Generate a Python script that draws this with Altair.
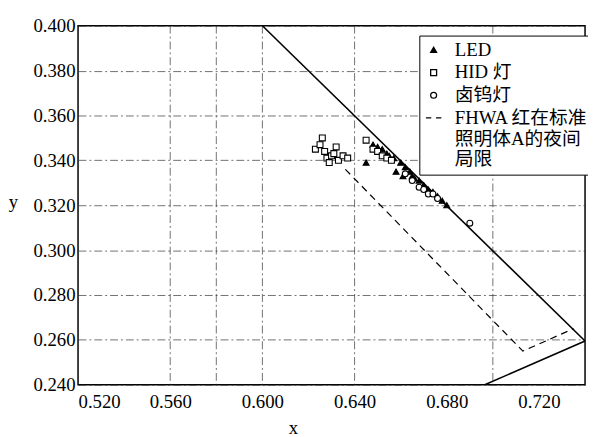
import altair as alt
import pandas as pd

# ---- data ----
led_x = [0.645, 0.648, 0.650, 0.652, 0.654, 0.655, 0.657, 0.658, 0.660, 0.661, 0.662, 0.664, 0.665, 0.666, 0.668, 0.670, 0.672, 0.674, 0.676, 0.678, 0.680]
led_y = [0.339, 0.347, 0.346, 0.345, 0.343, 0.342, 0.341, 0.335, 0.339, 0.333, 0.337, 0.335, 0.333, 0.332, 0.331, 0.329, 0.327, 0.326, 0.324, 0.322, 0.320]

hid_x = [0.623, 0.625, 0.626, 0.627, 0.628, 0.629, 0.630, 0.631, 0.632, 0.633, 0.635, 0.637, 0.645, 0.648, 0.650, 0.652, 0.654, 0.656]
hid_y = [0.345, 0.347, 0.350, 0.344, 0.341, 0.339, 0.342, 0.343, 0.346, 0.340, 0.342, 0.341, 0.349, 0.345, 0.344, 0.342, 0.341, 0.340]

hal_x = [0.662, 0.665, 0.668, 0.670, 0.672, 0.674, 0.676, 0.690]
hal_y = [0.334, 0.331, 0.328, 0.327, 0.325, 0.325, 0.323, 0.312]

categories = ["LED", "HID 灯", "卤钨灯", "FHWA"]

# solid boundary lines (spectrum locus and purple line)
locus_x = [0.600, 0.740]
locus_y = [0.400, 0.2595]
purple_x = [0.740, 0.6965]
purple_y = [0.2595, 0.240]

# FHWA dashed limit
fhwa_x = [0.636, 0.713, 0.735]
fhwa_y = [0.336, 0.255, 0.265]

# vertical grid lines visible in the reference
vgrid = [0.56, 0.58, 0.60, 0.64, 0.70]
x_ticks = [0.52, 0.56, 0.60, 0.64, 0.68, 0.72]
y_ticks = [0.24, 0.26, 0.28, 0.30, 0.32, 0.34, 0.36, 0.38, 0.40]

# ---- tables ----
pts = pd.concat([
    pd.DataFrame({"x": led_x, "y": led_y, "type": "LED"}),
    pd.DataFrame({"x": hid_x, "y": hid_y, "type": "HID 灯"}),
    pd.DataFrame({"x": hal_x, "y": hal_y, "type": "卤钨灯"}),
])
solid = pd.concat([
    pd.DataFrame({"x": locus_x, "y": locus_y, "seg": "locus", "o": [0, 1]}),
    pd.DataFrame({"x": purple_x, "y": purple_y, "seg": "purple", "o": [0, 1]}),
])
dashed = pd.DataFrame({"x": fhwa_x, "y": fhwa_y, "o": list(range(len(fhwa_x)))})
grid_df = pd.DataFrame({"gx": vgrid})

FONT = "Liberation Serif, 'Noto Sans CJK SC'"

xscale = alt.Scale(domain=[0.52, 0.74], nice=False, zero=False)
yscale = alt.Scale(domain=[0.24, 0.40], nice=False, zero=False)

xaxis = alt.Axis(values=x_ticks, format=".3f", grid=False, ticks=False, domain=False,
                 labelFont=FONT, labelFontSize=19, labelColor="black", labelPadding=8,
                 title="x", titleFont=FONT, titleFontSize=19, titleFontWeight="normal",
                 titleX=218, titleY=34, titleColor="black")
yaxis = alt.Axis(values=y_ticks, format=".3f", grid=True, gridColor="#333", gridDash=[8, 3, 2, 3],
                 gridWidth=0.7, ticks=False, domain=False,
                 labelFont=FONT, labelFontSize=19, labelColor="black", labelPadding=3,
                 title="y", titleFont=FONT, titleFontSize=19, titleFontWeight="normal",
                 titleAngle=0, titleX=-66, titleY=188, titleColor="black")

grid = alt.Chart(grid_df).mark_rule(color="#333", strokeDash=[8, 3, 2, 3], strokeWidth=0.7).encode(
    x=alt.X("gx:Q", scale=xscale, axis=xaxis)
)

lines = alt.Chart(solid).mark_line(color="black", strokeWidth=1.6, clip=True).encode(
    x=alt.X("x:Q", scale=xscale),
    y=alt.Y("y:Q", scale=yscale, axis=yaxis),
    detail="seg:N",
    order="o:Q",
)

dash = alt.Chart(dashed).mark_line(color="black", strokeWidth=1.2, strokeDash=[7, 5], clip=True).encode(
    x=alt.X("x:Q", scale=xscale),
    y=alt.Y("y:Q", scale=yscale),
    order="o:Q",
)

label_expr = ("datum.label == 'FHWA' ? ['FHWA 红在标准', '照明体A的夜间', '局限'] : datum.label")

legend = alt.Legend(title=None, orient="none", legendX=346, legendY=10,
                    strokeColor="black", fillColor="white", padding=5,
                    labelFont=FONT, labelFontSize=19, labelColor="black", labelLimit=300,
                    labelExpr=label_expr, labelOffset=12, rowPadding=3,
                    symbolSize=36, symbolStrokeWidth=1.3)

dash_path = "M-2.6,0H-0.8M0.8,0H2.6"

points = alt.Chart(pts).mark_point(strokeWidth=1.1, opacity=1, size=36).encode(
    x=alt.X("x:Q", scale=xscale),
    y=alt.Y("y:Q", scale=yscale),
    shape=alt.Shape("type:N", scale=alt.Scale(domain=categories,
                    range=["triangle-up", "square", "circle", dash_path]), legend=legend),
    fill=alt.Fill("type:N", scale=alt.Scale(domain=categories,
                  range=["black", "white", "white", "transparent"]), legend=legend),
    stroke=alt.Stroke("type:N", scale=alt.Scale(domain=categories,
                      range=["black", "black", "black", "black"]), legend=legend),
)

chart = alt.layer(grid, lines, dash, points).properties(
    width=514, height=364,
    autosize="none",
    padding={"left": 71, "top": 15, "right": 3, "bottom": 50},
).configure_view(stroke="black", strokeWidth=1.5)

chart.save("out.html", embed_options={"renderer": "svg", "actions": False})
